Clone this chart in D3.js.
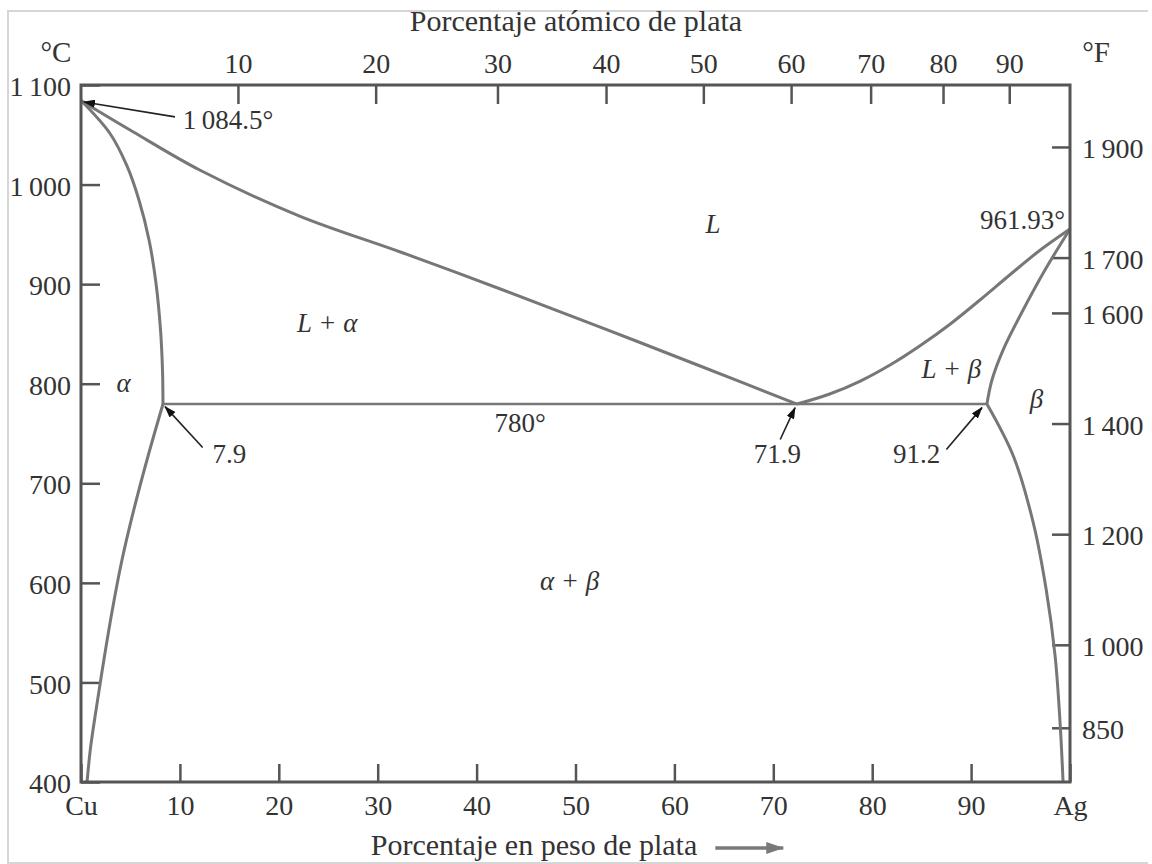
<!DOCTYPE html>
<html>
<head>
<meta charset="utf-8">
<script src="https://cdn.jsdelivr.net/npm/d3@7"></script>
<style>
  body { margin: 0; background: #fff; }
  svg { display: block; font-family: "Liberation Serif", "Times New Roman", serif; }
</style>
</head>
<body>
<svg id="chart"></svg>
<script>
// Cu-Ag phase diagram: [wt% Ag, °C]
const liquidusCu = [[0, 1084.5], [1.9, 1072.9], [5.3, 1052.8], [12.0, 1014.6], [22.1, 968.4], [32.3, 932.3],
  [42.4, 895.1], [52.5, 856.9], [62.6, 817.8], [72.4, 779.6]];
const liquidusAg = [[72.4, 779.6], [75.7, 789.7], [78.8, 802.7], [81.8, 818.8], [84.8, 837.9], [87.9, 860.0],
  [90.9, 884.1], [93.9, 909.2], [97.0, 934.3], [100, 955.4]];
const solidusAlpha = [[0, 1084.5], [2.9, 1051.8], [4.65, 1018.7], [5.86, 984.5], [6.88, 944.4], [7.58, 901.2],
  [8.04, 854], [8.24, 813.9], [8.29, 779.6]];
const solvusAlpha = [[8.29, 779.6], [6.67, 723.4], [5.26, 670.2], [4.1, 620.9], [3.13, 570.7], [2.28, 520.5],
  [1.52, 472.3], [0.96, 434.1], [0.61, 400]];
const solidusBeta = [[100, 955.4], [97.47, 914.2], [95.15, 872.0], [93.23, 833.8], [92.11, 803.7], [91.6, 779.6]];
const solvusBeta = [[91.6, 779.6], [94.3, 726.7], [96.3, 659.7], [97.6, 592.8], [98.5, 526], [99.0, 459], [99.3, 400]];
const eutectic = [[8.29, 779.6], [91.6, 779.6]];

// axes
const wtTicks = [0, 10, 20, 30, 40, 50, 60, 70, 80, 90, 100];
const atTicks = [10, 20, 30, 40, 50, 60, 70, 80, 90];
const celsiusTicks = [400, 500, 600, 700, 800, 900, 1000, 1100];
const fahrenheitTicks = [850, 1000, 1200, 1400, 1600, 1700, 1900];

// region labels [text, wt%, °C]
const regionLabels = [
  ["L", 63.9, 951],
  ["L + α", 24.9, 852],
  ["α", 4.3, 792],
  ["L + β", 88.0, 806],
  ["β", 96.6, 776],
  ["α + β", 49.4, 593]
];
// value labels [text, wt%, °C, anchor]
const valueLabels = [
  ["1\u2009084.5°", 10.3, 1056, "start"],
  ["961.93°", 99.5, 955, "end"],
  ["780°", 44.4, 752, "middle"],
  ["7.9", 13.3, 720, "start"],
  ["71.9", 70.4, 720, "middle"],
  ["91.2", 84.5, 720, "middle"]
];
// arrows [from wt%, from °C, to wt%, to °C]
const pointers = [
  [9.5, 1068, 0.3, 1083],
  [12.3, 736, 8.5, 777],
  [70.7, 744, 72.2, 776],
  [87.5, 734, 91.1, 776]
];

const width = 1152, height = 864;
const frame = { left: 81, right: 1070, top: 85, bottom: 782 };
const fontFamily = '"Liberation Serif", "Times New Roman", serif';

// atomic % -> weight % of silver
const atToWt = (a) => (a * 107.87) / (a * 107.87 + (100 - a) * 63.55);
const cToF = (c) => c * 9 / 5 + 32;

const svg = d3.select("#chart").attr("width", width).attr("height", height);
svg.append("rect").attr("width", width).attr("height", height).attr("fill", "#fff");

const x = d3.scaleLinear().domain([0, 100]).range([frame.left, frame.right]);
const y = d3.scaleLinear().domain([400, 1100]).range([frame.bottom, frame.top]);
const yF = d3.scaleLinear().domain([cToF(400), cToF(1100)]).range([frame.bottom, frame.top]);
const atDomain = [0].concat(atTicks, [100]);
const xAt = d3.scaleLinear().domain(atDomain).range(atDomain.map((a) => x(atToWt(a) * 100)));

const tickColor = "#555";
const textColor = "#333";
const curveColor = "#777";

// outer border (light)
svg.append("path")
  .attr("d", `M1148,11 H8 V863 H1148`)
  .attr("fill", "none")
  .attr("stroke", "#d6d6d6")
  .attr("stroke-width", 2);

const defs = svg.append("defs");
defs.append("marker")
  .attr("id", "head")
  .attr("markerUnits", "userSpaceOnUse")
  .attr("markerWidth", 12).attr("markerHeight", 8)
  .attr("refX", 11).attr("refY", 4)
  .attr("orient", "auto")
  .append("path").attr("d", "M0,0 L12,4 L0,8 Z").attr("fill", "#111");
defs.append("marker")
  .attr("id", "headGray")
  .attr("markerUnits", "userSpaceOnUse")
  .attr("markerWidth", 18).attr("markerHeight", 12)
  .attr("refX", 17).attr("refY", 6)
  .attr("orient", "auto")
  .append("path").attr("d", "M0,0 L18,6 L0,12 Z").attr("fill", "#7a7a7a");

function styleAxis(g, size) {
  g.attr("font-family", fontFamily);
  g.select(".domain").remove();
  g.selectAll(".tick line").attr("stroke", tickColor).attr("stroke-width", 2.5);
  g.selectAll(".tick text").attr("fill", textColor).attr("font-size", size);
}

const fmtThousands = (v) => v >= 1000 ? String(v).replace(/^(\d)(\d{3})$/, "$1\u2009$2") : String(v);

// left °C axis
svg.append("g")
  .attr("transform", `translate(${frame.left},0)`)
  .call(d3.axisLeft(y).tickValues(celsiusTicks).tickSize(-19).tickPadding(10).tickFormat(fmtThousands))
  .call((g) => styleAxis(g, 28))
  .call((g) => g.selectAll(".tick text").attr("dy", "0.38em"));

// right °F axis
svg.append("g")
  .attr("transform", `translate(${frame.right},0)`)
  .call(d3.axisRight(yF).tickValues(fahrenheitTicks).tickSize(-18).tickPadding(12).tickFormat(fmtThousands))
  .call((g) => styleAxis(g, 28))
  .call((g) => g.selectAll(".tick text").attr("dy", "0.38em"));

// bottom wt% axis
svg.append("g")
  .attr("transform", `translate(0,${frame.bottom})`)
  .call(d3.axisBottom(x).tickValues(wtTicks).tickSize(-18).tickPadding(13)
    .tickFormat((d) => (d === 0 ? "Cu" : d === 100 ? "Ag" : d)))
  .call((g) => styleAxis(g, 28));

// top at% axis
svg.append("g")
  .attr("transform", `translate(0,${frame.top})`)
  .call(d3.axisTop(xAt).tickValues(atTicks).tickSize(-19).tickPadding(12))
  .call((g) => styleAxis(g, 28));

// unit labels
svg.append("text").attr("x", 56).attr("y", 62).attr("text-anchor", "middle")
  .attr("font-size", 29).attr("fill", textColor).text("°C");
svg.append("text").attr("x", 1096).attr("y", 62).attr("text-anchor", "middle")
  .attr("font-size", 29).attr("fill", textColor).text("°F");

// axis titles
svg.append("text").attr("x", 576).attr("y", 31).attr("text-anchor", "middle")
  .attr("font-size", 30).attr("fill", textColor).text("Porcentaje atómico de plata");
const bottomTitle = svg.append("text").attr("x", 534).attr("y", 855).attr("text-anchor", "middle")
  .attr("font-size", 30).attr("fill", textColor).text("Porcentaje en peso de plata");
const tb = bottomTitle.node().getBBox();
svg.append("line")
  .attr("x1", tb.x + tb.width + 18).attr("x2", tb.x + tb.width + 86)
  .attr("y1", 848).attr("y2", 848)
  .attr("stroke", "#7a7a7a").attr("stroke-width", 3.5)
  .attr("marker-end", "url(#headGray)");

// phase boundaries
const line = d3.line().x((d) => x(d[0])).y((d) => y(d[1])).curve(d3.curveCatmullRom.alpha(0.5));
const boundaries = [liquidusCu, liquidusAg, solidusAlpha, solvusAlpha, solidusBeta, solvusBeta];
svg.append("g")
  .selectAll("path")
  .data(boundaries)
  .join("path")
  .attr("d", line)
  .attr("fill", "none")
  .attr("stroke", curveColor)
  .attr("stroke-width", 3)
  .attr("stroke-linejoin", "round");

svg.append("path")
  .datum(eutectic)
  .attr("d", d3.line().x((d) => x(d[0])).y((d) => y(d[1])))
  .attr("fill", "none")
  .attr("stroke", curveColor)
  .attr("stroke-width", 2.5);

// plot frame
svg.append("rect")
  .attr("x", x(0)).attr("y", y(1100))
  .attr("width", x(100) - x(0)).attr("height", y(400) - y(1100))
  .attr("fill", "none")
  .attr("stroke", tickColor)
  .attr("stroke-width", 3);

// pointer arrows
svg.append("g")
  .selectAll("line")
  .data(pointers)
  .join("line")
  .attr("x1", (d) => x(d[0])).attr("y1", (d) => y(d[1]))
  .attr("x2", (d) => x(d[2])).attr("y2", (d) => y(d[3]))
  .attr("stroke", "#222")
  .attr("stroke-width", 1.6)
  .attr("marker-end", "url(#head)");

// labels
svg.append("g")
  .selectAll("text")
  .data(valueLabels)
  .join("text")
  .attr("x", (d) => x(d[1])).attr("y", (d) => y(d[2]))
  .attr("text-anchor", (d) => d[3])
  .attr("font-size", 27)
  .attr("fill", textColor)
  .text((d) => d[0]);

svg.append("g")
  .selectAll("text")
  .data(regionLabels)
  .join("text")
  .attr("x", (d) => x(d[1])).attr("y", (d) => y(d[2]))
  .attr("text-anchor", "middle")
  .attr("font-size", 27)
  .attr("font-style", "italic")
  .attr("fill", textColor)
  .text((d) => d[0]);
</script>
</body>
</html>
